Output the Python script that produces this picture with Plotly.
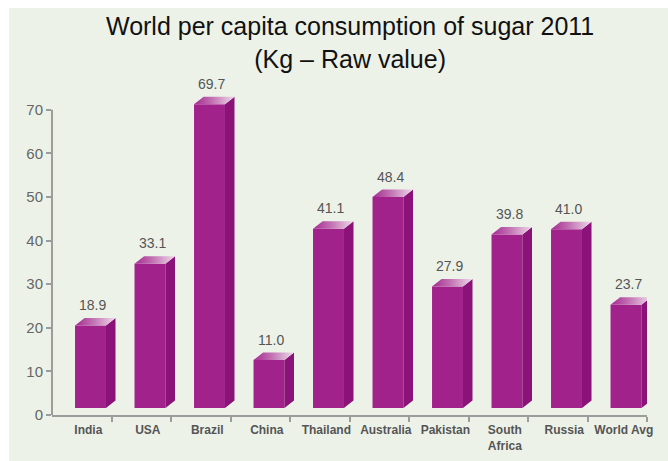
import plotly.graph_objects as go

# Per capita sugar consumption, 2011 (kg, raw value)
categories = ["India", "USA", "Brazil", "China", "Thailand", "Australia",
              "Pakistan", "South<br>Africa", "Russia", "World Avg"]
values = [18.9, 33.1, 69.7, 11.0, 41.1, 48.4, 27.9, 39.8, 41.0, 23.7]
y_ticks = [0, 10, 20, 30, 40, 50, 60, 70]

# 3D bar geometry (in axis units)
BASE = 1.6        # front face sits slightly above the axis line
OFFSET = -0.113   # left edge of front face relative to category position
WIDTH = 0.52      # front face width
DX, DY = 0.16, 1.72  # depth of the extruded bar

FRONT = "#a2228c"
SIDE = "#8a1278"
AXIS = "#9c9c9c"
BG = "#edf2e9"

W, H = 668, 461
ML, MR, MT, MB = 52, 21, 88, 46
PW, PH = W - ML - MR, H - MT - MB


def px_x(px):
    """Figure pixel column -> paper x (plot-area relative)."""
    return (px - ML) / PW


def px_y(py):
    """Figure pixel row (from top) -> paper y (plot-area relative)."""
    return (H - MB - py) / PH


xs = list(range(len(categories)))

fig = go.Figure()

# front faces
fig.add_trace(go.Bar(
    x=xs, y=values, base=BASE, width=WIDTH, offset=OFFSET,
    marker=dict(color=FRONT, line=dict(width=0)),
    hoverinfo="skip", showlegend=False,
))

# side faces
sx, sy = [], []
for x, v in zip(xs, values):
    xr = x + OFFSET + WIDTH
    sx += [xr, xr + DX, xr + DX, xr, xr, None]
    sy += [BASE, BASE + DY, BASE + v + DY, BASE + v, BASE, None]
fig.add_trace(go.Scatter(
    x=sx, y=sy, mode="lines", fill="toself", fillcolor=SIDE,
    line=dict(width=0), hoverinfo="skip", showlegend=False,
))

# top faces with a horizontal sheen
for x, v in zip(xs, values):
    xl = x + OFFSET
    xr = xl + WIDTH
    top = BASE + v
    fig.add_trace(go.Scatter(
        x=[xl, xr, xr + DX, xl + DX, xl],
        y=[top, top, top + DY, top + DY, top],
        mode="lines", fill="toself",
        fillgradient=dict(type="horizontal",
                          colorscale=[[0, "#a52a91"], [0.45, "#c272b3"], [1, "#eedbea"]]),
        line=dict(width=0), hoverinfo="skip", showlegend=False,
    ))

# value labels
annotations = []
for x, v in zip(xs, values):
    annotations.append(dict(
        x=x + OFFSET + WIDTH / 2 + 0.04, y=BASE + v + DY,
        xref="x", yref="y", text=f"{v:.1f}", showarrow=False,
        yanchor="bottom", yshift=3,
        font=dict(family="Liberation Sans, Arial", size=14, color="#555555"),
    ))

# title
annotations.append(dict(
    x=px_x(350), y=px_y(10), xref="paper", yref="paper",
    text="World per capita consumption of sugar 2011<br>(Kg \u2013 Raw value)",
    showarrow=False, xanchor="center", yanchor="top",
    font=dict(family="Liberation Sans, Arial", size=25, color="#111111"),
))

shapes = [
    # panel background
    dict(type="rect", xref="paper", yref="paper", x0=px_x(9), x1=px_x(W + 2),
         y0=px_y(H + 2), y1=px_y(8), fillcolor=BG, line=dict(width=0), layer="below"),
    # y axis line (stops at the top tick)
    dict(type="line", xref="paper", yref="y", x0=0, x1=0, y0=0, y1=70,
         line=dict(color=AXIS, width=2)),
]

fig.update_layout(
    width=W, height=H,
    margin=dict(l=ML, r=MR, t=MT, b=MB),
    paper_bgcolor="white", plot_bgcolor="rgba(0,0,0,0)",
    annotations=annotations, shapes=shapes,
    showlegend=False,
    xaxis=dict(
        range=[-0.5, len(categories) - 0.5],
        tickvals=[x + 0.11 for x in xs], ticktext=categories,
        ticks="", showgrid=False, zeroline=False,
        showline=True, linecolor=AXIS, linewidth=2,
        tickfont=dict(family="Liberation Sans, Arial", size=12, color="#555555", weight="bold"),
        ticklabelstandoff=3, automargin=False,
        minor=dict(tickvals=[x + 0.5 for x in xs], ticks="outside",
                   ticklen=5, tickwidth=2, tickcolor=AXIS, showgrid=False),
        fixedrange=True,
    ),
    yaxis=dict(
        range=[0, 75], tickvals=y_ticks,
        ticks="outside", ticklen=5, tickwidth=2, tickcolor=AXIS,
        showline=False, showgrid=False, zeroline=False, automargin=False,
        tickfont=dict(family="Liberation Sans, Arial", size=15, color="#666666"),
        fixedrange=True,
    ),
)

fig.write_html("out.html")
